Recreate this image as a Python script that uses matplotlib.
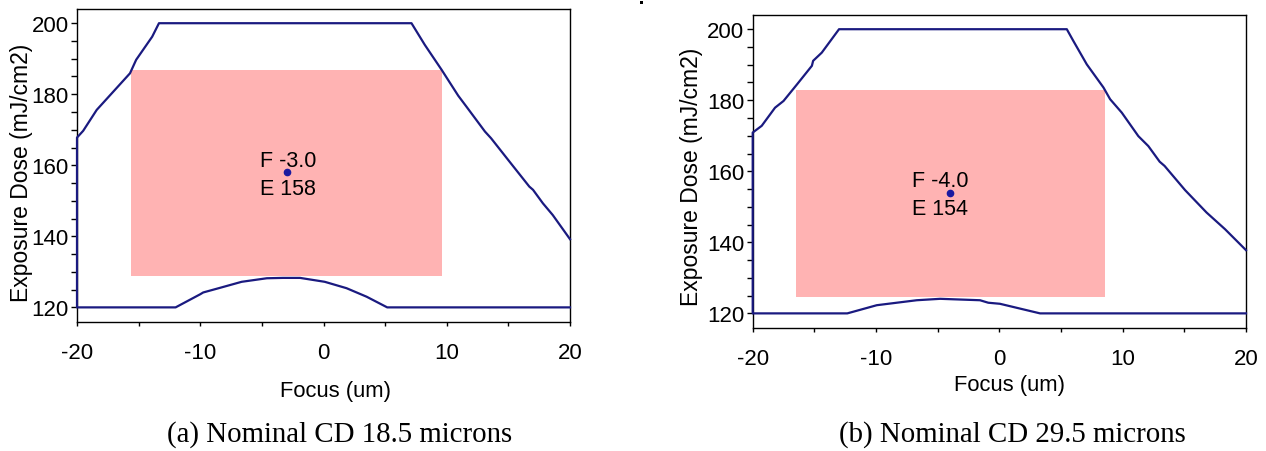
import numpy as np
import matplotlib
matplotlib.use("Agg")
import matplotlib.pyplot as plt
from matplotlib.patches import Rectangle
from matplotlib.ticker import MultipleLocator

plt.rcParams['font.family'] = ['Liberation Sans', 'DejaVu Sans']
plt.rcParams['axes.unicode_minus'] = False

# --- данные ---
# (a) Nominal CD 18.5 microns
a_upper_f = [-20.0, -19.5, -18.4, -15.7, -15.2, -13.9, -13.35, 7.14, 8.22, 9.58, 10.93,
             11.6, 13.1, 13.6, 15.1, 16.7, 17.0, 17.8, 18.6, 20.0]
a_upper_e = [167.8, 169.7, 175.6, 185.9, 189.7, 196.2, 200.0, 200.0, 193.9, 186.9, 179.6,
             176.5, 169.5, 167.6, 161.0, 154.0, 153.1, 149.3, 146.0, 139.2]
a_lower_f = [-20.0, -12.0, -10.0, -9.76, -8.4, -6.64, -4.6, -3.3, -1.9, 0.1, 1.87, 3.5, 5.17, 20.0]
a_lower_e = [120.0, 120.0, 123.7, 124.2, 125.5, 127.2, 128.2, 128.3, 128.3, 127.2, 125.4, 123.0, 120.0, 120.0]
a_window = (-15.6, 9.6, 128.9, 186.9)   # focus min, focus max, dose min, dose max
a_best = (-3.0, 158)

# (b) Nominal CD 29.5 microns
b_upper_f = [-20.0, -19.27, -18.19, -17.5, -16.4, -15.2, -15.1, -14.4, -13.0, 5.47, 6.0,
             7.09, 8.44, 8.98, 9.93, 11.27, 12.08, 13.0, 13.4, 15.06, 16.8, 18.3, 20.0]
b_upper_e = [170.9, 172.8, 177.9, 179.8, 184.5, 189.7, 191.1, 193.4, 200.0, 200.0, 196.7,
             190.1, 183.6, 180.3, 176.5, 169.9, 167.1, 162.7, 161.5, 154.7, 148.4, 143.7, 137.8]
b_lower_f = [-20.0, -12.33, -9.94, -6.7, -4.8, -1.57, -0.9, 0.05, 3.3, 20.0]
b_lower_e = [120.0, 120.0, 122.3, 123.7, 124.1, 123.7, 123.0, 122.7, 120.0, 120.0]
b_window = (-16.5, 8.57, 124.6, 182.9)
b_best = (-4.0, 154)

captions = ["(a) Nominal CD 18.5 microns", "(b) Nominal CD 29.5 microns"]

LINE = '#1a1a80'
DOT = '#1a1aa0'
PINK = '#ffb3b3'

fig = plt.figure(figsize=(12.66, 4.52), dpi=100)

panels = [
    (a_upper_f, a_upper_e, a_lower_f, a_lower_e, a_window, a_best,
     [77 / 1266, 1 - 323.3 / 452, 493 / 1266, 313.3 / 452], (22, 172.5), (335, 392), (340, 435)),
    (b_upper_f, b_upper_e, b_lower_f, b_lower_e, b_window, b_best,
     [752.7 / 1266, 1 - 329.3 / 452, 493.3 / 1266, 313.3 / 452], (691.7, 176.7), (1010, 385), (1012, 435)),
]

for i, (uf, ue, lf, le, win, best, rect, ylab_xy, xlab_xy, cap_xy) in enumerate(panels):
    ax = fig.add_axes(rect)

    # окно процесса
    f0, f1, e0, e1 = win
    ax.add_patch(Rectangle((f0, e0), f1 - f0, e1 - e0, facecolor=PINK,
                           edgecolor='none', zorder=1))

    # контур: нижняя кривая справа налево, затем верхняя
    cf = list(lf[::-1]) + list(uf)
    ce = list(le[::-1]) + list(ue)
    ax.plot(cf, ce, color=LINE, lw=1.6, zorder=3, clip_on=False)

    # лучшая точка
    bf, be = best
    ax.plot([bf], [be], 'o', color=DOT, ms=4.5, zorder=4)
    tx = bf - 2.15 - (0.95 if i == 1 else 0)
    ax.text(tx, be + 3.4, f"F {bf:.1f}", fontsize=15.5, ha='left', va='center', zorder=5)
    ax.text(tx, be - 4.4, f"E {be}", fontsize=15.5, ha='left', va='center', zorder=5)

    ax.set_xlim(-20, 20)
    ax.set_ylim(115.8, 204.0)
    ax.xaxis.set_major_locator(MultipleLocator(10))
    ax.xaxis.set_minor_locator(MultipleLocator(5))
    ax.yaxis.set_major_locator(MultipleLocator(20))
    ax.yaxis.set_minor_locator(MultipleLocator(5))
    ax.tick_params(axis='x', which='both', direction='out', length=3, width=1,
                   pad=11, labelsize=16)
    ax.tick_params(axis='y', which='both', direction='out', length=4, width=1,
                   pad=2, labelsize=16)
    for s in ax.spines.values():
        s.set_linewidth(1.0)

    fig.text(ylab_xy[0] / 1266, 1 - ylab_xy[1] / 452, "Exposure Dose (mJ/cm2)",
             rotation=90, ha='center', va='center', fontsize=16.5)
    fig.text(xlab_xy[0] / 1266, 1 - xlab_xy[1] / 452, "Focus (um)",
             ha='center', va='center', fontsize=15.8)
    fig.text(cap_xy[0] / 1266, 1 - cap_xy[1] / 452, captions[i],
             ha='center', va='center', fontsize=20.8, family=['Liberation Serif'])

# маленькая точка-артефакт сверху посередине
fig.patches.append(Rectangle((640 / 1266, 1 - 5 / 452), 3 / 1266, 3 / 452,
                             transform=fig.transFigure, facecolor='black',
                             edgecolor='none', figure=fig))

fig.savefig("out.png", dpi=100)
